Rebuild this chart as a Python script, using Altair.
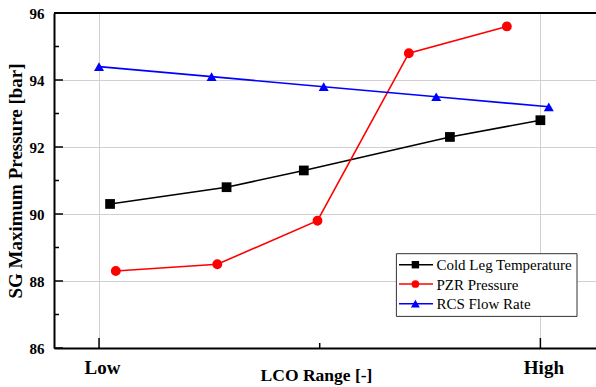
import altair as alt
import pandas as pd

# ---- data ----
series = ["Cold Leg Temperature", "PZR Pressure", "RCS Flow Rate"]
cold_x = [0.025, 0.289, 0.464, 0.795, 1.0]
cold_y = [90.3, 90.8, 91.3, 92.3, 92.8]
pzr_x = [0.038, 0.268, 0.495, 0.702, 0.924]
pzr_y = [88.3, 88.5, 89.8, 94.8, 95.6]
rcs_x = [0.0, 0.255, 0.509, 0.764, 1.019]
rcs_y = [94.4, 94.1, 93.8, 93.5, 93.2]

x_tick_values = [0, 1]
x_tick_labels = ["Low", "High"]
x_minor_ticks = [0.5]
y_major_ticks = [86, 88, 90, 92, 94, 96]
y_minor_ticks = [87, 89, 91, 93, 95]

colors = ["#000000", "#ff0000", "#0000ff"]
shapes = ["square", "circle", "triangle-up"]
sizes = [95, 100, 165]
legend_sizes = [55, 60, 80]

FONT = "Liberation Serif"
W, H = 542, 335

rows = []
for name, xs_, ys_ in zip(series, [cold_x, pzr_x, rcs_x], [cold_y, pzr_y, rcs_y]):
    for a, b in zip(xs_, ys_):
        rows.append({"series": name, "x": a, "y": b})
df = pd.DataFrame(rows)

xscale = alt.Scale(domain=[-0.102, 1.126], nice=False, zero=False)
yscale = alt.Scale(domain=[86, 96], nice=False, zero=False)
cscale = alt.Scale(domain=series, range=colors)
sscale = alt.Scale(domain=series, range=shapes)
zscale = alt.Scale(domain=series, range=sizes)

label_expr = " : ".join(
    [f"datum.value == {v} ? '{l}'" for v, l in zip(x_tick_values, x_tick_labels)]
) + " : ''"

x_axis = alt.Axis(
    values=x_tick_values, labelExpr=label_expr, grid=True, gridColor="#d0d0d0",
    gridWidth=1, ticks=False, tickSize=0, domainColor="black", domainWidth=2,
    labelFont=FONT, labelFontWeight="bold", labelFontSize=19, labelColor="black",
    labelPadding=25, labelBaseline="alphabetic", labelOffset=3, labelFlush=False,
    labelOverlap=False, title="LCO Range [-]", titleFont=FONT, titleFontSize=17.5,
    titleFontWeight="bold", titleColor="black", titleX=262, titleY=32,
    titleBaseline="alphabetic", titleAlign="center",
)
y_axis = alt.Axis(
    values=y_major_ticks, grid=True, gridColor="#d0d0d0", gridWidth=1,
    ticks=False, tickSize=0, domainColor="black", domainWidth=2,
    labelFont=FONT, labelFontWeight="bold", labelFontSize=15, labelColor="black",
    labelPadding=10, labelFlush=False, labelOverlap=False,
    title="SG Maximum Pressure [bar]", titleFont=FONT, titleFontSize=19,
    titleFontWeight="bold", titleColor="black", titleX=-29, titleY=H / 2,
    titleAngle=270, titleBaseline="bottom", titleAlign="center",
)

base = alt.Chart(df)
lines = base.mark_line(strokeWidth=1.6).encode(
    x=alt.X("x:Q", scale=xscale, axis=x_axis),
    y=alt.Y("y:Q", scale=yscale, axis=y_axis),
    color=alt.Color("series:N", scale=cscale, legend=None),
    detail="series:N",
)
points = base.mark_point(filled=True, opacity=1).encode(
    x=alt.X("x:Q", scale=xscale, axis=x_axis),
    y=alt.Y("y:Q", scale=yscale, axis=y_axis),
    color=alt.Color("series:N", scale=cscale, legend=None),
    shape=alt.Shape("series:N", scale=sscale, legend=None),
    size=alt.Size("series:N", scale=zscale, legend=None),
)

# inward ticks
ymaj = alt.Chart(pd.DataFrame({"y": y_major_ticks})).mark_rule(color="black", strokeWidth=1.5).encode(
    y=alt.Y("y:Q", scale=yscale, axis=y_axis), x=alt.value(0), x2=alt.value(9))
ymin = alt.Chart(pd.DataFrame({"y": y_minor_ticks})).mark_rule(color="black", strokeWidth=1.5).encode(
    y=alt.Y("y:Q", scale=yscale, axis=y_axis), x=alt.value(0), x2=alt.value(5))
xmaj = alt.Chart(pd.DataFrame({"x": x_tick_values})).mark_rule(color="black", strokeWidth=1.5).encode(
    x=alt.X("x:Q", scale=xscale, axis=x_axis), y=alt.value(H), y2=alt.value(H - 10))
xmin = alt.Chart(pd.DataFrame({"x": x_minor_ticks})).mark_rule(color="black", strokeWidth=1.5).encode(
    x=alt.X("x:Q", scale=xscale, axis=x_axis), y=alt.value(H), y2=alt.value(H - 5))

one = pd.DataFrame({"a": [0]})
top = alt.Chart(one).mark_rule(color="black", strokeWidth=2).encode(
    x=alt.value(0), x2=alt.value(W), y=alt.value(0))

# legend (drawn manually)
LX0, LX1, LY0, LY1 = 342.4, 523, 240.7, 303.4
row_y = [251.7, 271.0, 290.7]
legend_layers = [
    alt.Chart(one).mark_rect(fill="white", stroke="#333333", strokeWidth=1).encode(
        x=alt.value(LX0), x2=alt.value(LX1), y=alt.value(LY0), y2=alt.value(LY1))
]
for name, col, shp, sz, ry in zip(series, colors, shapes, legend_sizes, row_y):
    legend_layers.append(alt.Chart(one).mark_rule(color=col, strokeWidth=1.6).encode(
        x=alt.value(345), x2=alt.value(379), y=alt.value(ry)))
    legend_layers.append(alt.Chart(one).mark_point(filled=True, opacity=1, color=col, shape=shp, size=sz).encode(
        x=alt.value(361.4), y=alt.value(ry)))
    legend_layers.append(alt.Chart(one).mark_text(
        text=name, font=FONT, fontSize=15, color="black", align="left", baseline="middle").encode(
        x=alt.value(382.4), y=alt.value(ry + 0.5)))

chart = alt.layer(lines, points, ymaj, ymin, xmaj, xmin, top, *legend_layers).properties(
    width=W, height=H,
    autosize=alt.AutoSizeParams(type="none"),
    padding={"left": 54, "top": 13, "right": 0, "bottom": 39},
    background="white",
).configure_view(strokeWidth=0)

chart.save("out.html", embed_options={"renderer": "svg", "actions": False})
